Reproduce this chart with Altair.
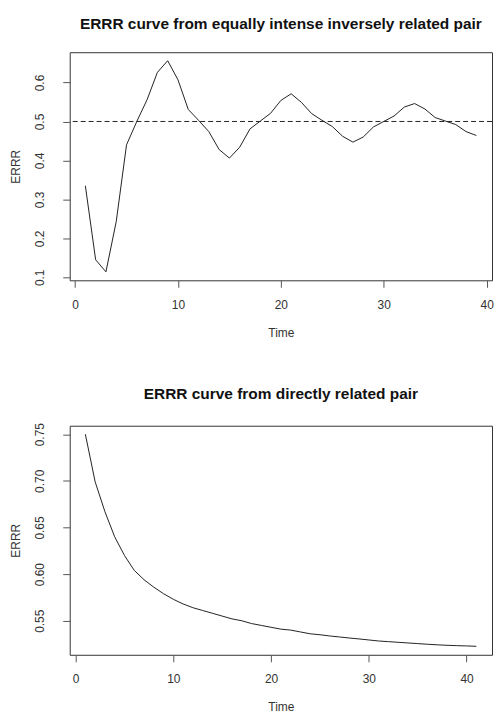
import altair as alt
import pandas as pd

# ---- data ----
time_top = list(range(1, 40))
errr_top = [0.335, 0.145, 0.114, 0.243, 0.440, 0.500, 0.556, 0.626, 0.656, 0.607,
            0.531, 0.503, 0.474, 0.428, 0.406, 0.434, 0.481, 0.501, 0.521, 0.554,
            0.571, 0.549, 0.520, 0.503, 0.487, 0.462, 0.447, 0.460, 0.486, 0.500,
            0.514, 0.537, 0.546, 0.532, 0.510, 0.501, 0.492, 0.474, 0.464]
ref_level = [0.5]

time_bottom = list(range(1, 42))
errr_bottom = [0.750, 0.699, 0.667, 0.640, 0.620, 0.604, 0.594, 0.586, 0.579, 0.573,
               0.568, 0.564, 0.561, 0.558, 0.555, 0.552, 0.550, 0.547, 0.545, 0.543,
               0.541, 0.540, 0.538, 0.536, 0.535, 0.5337, 0.5326, 0.5315, 0.5305, 0.5294,
               0.5283, 0.5276, 0.5269, 0.5262, 0.5255, 0.5248, 0.5242, 0.5237, 0.5233, 0.5230,
               0.5226]

x_ticks = [0, 10, 20, 30, 40]
y_ticks_top = [0.1, 0.2, 0.3, 0.4, 0.5, 0.6]
y_ticks_bottom = [0.55, 0.60, 0.65, 0.70, 0.75]

title_top = "ERRR curve from equally intense inversely related pair"
title_bottom = "ERRR curve from directly related pair"

FONT = "Liberation Sans"
INK = "#222222"


def x_axis():
    return alt.Axis(values=x_ticks, title="Time", tickSize=7, labelPadding=12,
                    titlePadding=17, grid=False, domain=False, labelFlush=False,
                    labelOverlap=False, format="d")


def y_axis(vals, fmt):
    return alt.Axis(values=vals, title="ERRR", tickSize=7, labelPadding=16,
                    titlePadding=11, grid=False, domain=False, labelAngle=270,
                    labelAlign="center", labelBaseline="bottom", labelOverlap=False,
                    labelFlush=False, format=fmt)


def panel(times, values, xdom, ydom, yvals, yfmt, title, w, h, with_ref):
    df = pd.DataFrame({"Time": times, "ERRR": values})
    xs = alt.Scale(domain=xdom, nice=False, zero=False)
    ys = alt.Scale(domain=ydom, nice=False, zero=False)
    line = alt.Chart(df).mark_line(color=INK, strokeWidth=1).encode(
        x=alt.X("Time:Q", scale=xs, axis=x_axis()),
        y=alt.Y("ERRR:Q", scale=ys, axis=y_axis(yvals, yfmt)),
    )
    layers = [line]
    if with_ref:
        rdf = pd.DataFrame({"level": ref_level})
        rule = alt.Chart(rdf).mark_rule(color=INK, strokeWidth=1, strokeDash=[5, 3]).encode(
            y=alt.Y("level:Q", scale=ys, title="ERRR", axis=y_axis(yvals, yfmt)),
        )
        layers = [rule, line]
    return alt.layer(*layers).properties(
        width=w, height=h,
        title=alt.TitleParams(title, fontSize=15.5, fontWeight="bold", font=FONT,
                              color="#111111", anchor="middle", offset=20),
    )


top = panel(time_top, errr_top, [-0.52, 40.52], [0.0923, 0.6777],
            y_ticks_top, ".1f", title_top, 424, 229, True)
bottom = panel(time_bottom, errr_bottom, [-0.6, 42.6], [0.5135, 0.7591],
               y_ticks_bottom, ".2f", title_bottom, 424, 230, False)

chart = alt.vconcat(top, bottom, spacing=47).properties(
    padding={"left": 9, "top": 15, "right": 0, "bottom": 0},
    background="white",
).configure_view(
    stroke="#333333", strokeWidth=1,
).configure_axis(
    labelFont=FONT, titleFont=FONT, labelFontSize=12, titleFontSize=12,
    titleFontWeight="normal", labelColor="#333333", titleColor="#333333",
    tickColor="#555555", tickWidth=1,
)

chart.save("out.html", embed_options={"renderer": "svg", "actions": False})
